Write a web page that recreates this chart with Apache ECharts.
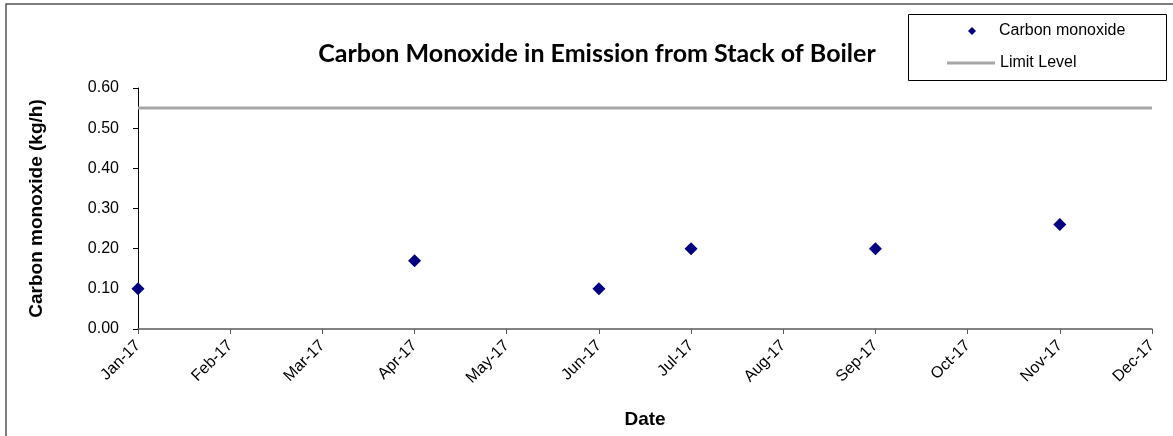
<!DOCTYPE html>
<html>
<head>
<meta charset="utf-8">
<script src="https://cdn.jsdelivr.net/npm/echarts@6/dist/echarts.min.js"></script>
<style>
  html, body { margin: 0; padding: 0; background: #fff; }
  #chart { width: 1173px; height: 436px; }
</style>
</head>
<body>
<div id="chart"></div>
<script>
    'use strict'

    /*-----data-----*/
    var months = ['Jan-17', 'Feb-17', 'Mar-17', 'Apr-17', 'May-17', 'Jun-17',
                  'Jul-17', 'Aug-17', 'Sep-17', 'Oct-17', 'Nov-17', 'Dec-17'];
    var coDates = ['Jan-17', 'Apr-17', 'Jun-17', 'Jul-17', 'Sep-17', 'Nov-17'];
    var coValues = [0.10, 0.17, 0.10, 0.20, 0.20, 0.26];
    var limitLevel = 0.55;
    var yTicks = [0, 0.6, 0.1]; // min, max, step

    var coData = coDates.map(function (d, i) { return [d, coValues[i]]; });
    var limitData = months.map(function () { return limitLevel; });

    var axisFont = 'Liberation Sans, Arial, sans-serif';
    var legendText = {
        fontFamily: axisFont,
        fontSize: 16,
        lineHeight: 16,
        color: '#000'
    };

    /*-----chart-----*/
    var chart = echarts.init(document.getElementById('chart'));
    var option = {
        animation: false,
        title: {
            text: 'Carbon Monoxide in Emission from Stack of Boiler',
            left: 592,
            top: 36,
            textAlign: 'center',
            textStyle: {
                fontFamily: 'Lato, sans-serif',
                fontWeight: 'bold',
                fontSize: 25,
                color: '#000'
            }
        },
        graphic: [{
            type: 'rect',
            shape: { x: 6, y: 4, width: 1200, height: 500 },
            style: { fill: 'none', stroke: '#555', lineWidth: 1.5 }
        }, {
            type: 'rect',
            shape: { x: 908.5, y: 14.5, width: 258, height: 66 },
            style: { fill: 'none', stroke: '#000', lineWidth: 1 }
        }],
        legend: [{
            left: 968,
            top: 23,
            padding: 0,
            itemWidth: 8,
            itemHeight: 8,
            textStyle: Object.assign({ padding: [0, 0, 0, 18] }, legendText),
            data: [{ name: 'Carbon monoxide', icon: 'diamond' }]
        }, {
            left: 947,
            top: 55,
            padding: 0,
            itemWidth: 48,
            itemHeight: 3,
            textStyle: legendText,
            data: [{ name: 'Limit Level', icon: 'rect' }]
        }],
        grid: {
            left: 138,
            right: 21,
            top: 88,
            bottom: 107
        },
        xAxis: {
            type: 'category',
            data: months,
            boundaryGap: false,
            name: 'Date',
            nameLocation: 'middle',
            nameGap: 81,
            nameTextStyle: {
                fontFamily: axisFont,
                fontWeight: 'bold',
                fontSize: 19,
                color: '#000',
                verticalAlign: 'top'
            },
            axisLine: { lineStyle: { color: '#595959', width: 1.5 } },
            axisTick: { alignWithLabel: true, length: 5, lineStyle: { color: '#595959' } },
            axisLabel: {
                rotate: 45,
                margin: 14,
                interval: 0,
                fontFamily: axisFont,
                fontSize: 16,
                color: '#000'
            },
            splitLine: { show: false }
        },
        yAxis: {
            type: 'value',
            min: yTicks[0],
            max: yTicks[1],
            interval: yTicks[2],
            name: 'Carbon monoxide (kg/h)',
            nameLocation: 'middle',
            nameGap: 92,
            nameTextStyle: {
                fontFamily: axisFont,
                fontWeight: 'bold',
                fontSize: 19,
                color: '#000'
            },
            axisLine: { show: true, lineStyle: { color: '#000', width: 1 } },
            axisTick: { show: true, length: 5, lineStyle: { color: '#000' } },
            axisLabel: {
                margin: 19,
                fontFamily: axisFont,
                fontSize: 16,
                color: '#000',
                formatter: function (v) { return v.toFixed(2); }
            },
            splitLine: { show: false }
        },
        series: [{
            name: 'Carbon monoxide',
            type: 'scatter',
            symbol: 'diamond',
            symbolSize: 13,
            itemStyle: { color: '#000080', opacity: 1 },
            data: coData,
            z: 3
        }, {
            name: 'Limit Level',
            type: 'line',
            symbol: 'none',
            lineStyle: { color: '#a6a6a6', width: 3 },
            itemStyle: { color: '#a6a6a6' },
            data: limitData,
            z: 2
        }]
    };
    chart.setOption(option);
</script>
</body>
</html>
